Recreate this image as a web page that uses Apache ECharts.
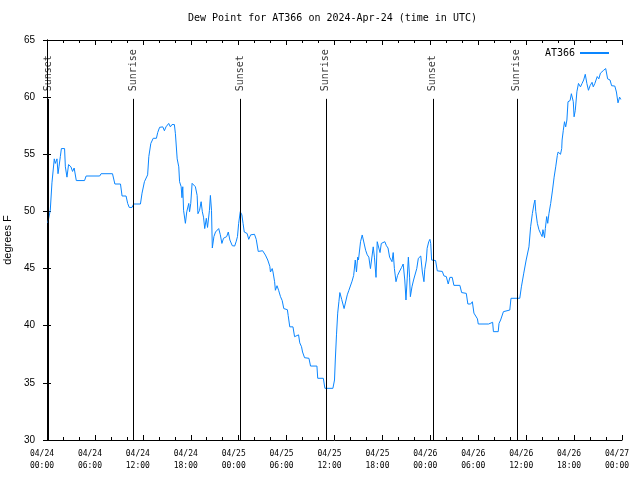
<!DOCTYPE html>
<html>
<head>
<meta charset="utf-8">
<script src="https://cdn.jsdelivr.net/npm/echarts@6/dist/echarts.min.js"></script>
<style>html,body{margin:0;padding:0;background:#fff}#c{width:640px;height:480px}</style>
</head>
<body>
<div id="c"></div>
<script>
// hours since 2024-04-24 00:00 UTC
var hours = [0.1,0.2,0.41,0.62,0.91,1.04,1.25,1.38,1.5,1.67,1.8,2.2,2.3,2.5,2.7,3.0,3.2,3.4,3.67,4.7,4.9,6.6,6.77,8.2,8.5,9.2,9.4,9.9,10.1,10.3,10.65,10.85,11.7,11.9,12.2,12.45,12.6,12.75,13.0,13.3,13.7,13.86,14.1,14.5,14.7,14.9,15.24,15.45,15.65,15.95,16.08,16.3,16.5,16.6,16.8,16.9,17.0,17.1,17.33,17.5,17.75,17.85,18.0,18.17,18.58,18.8,18.9,19.1,19.3,19.45,19.6,19.75,19.95,20.1,20.34,20.46,20.6,20.7,20.9,21.1,21.3,21.5,21.7,21.9,22.1,22.5,22.7,22.9,23.2,23.5,23.7,23.85,24.0,24.2,24.4,24.55,24.7,24.85,25.06,25.26,25.5,25.98,26.2,26.45,26.7,27.0,27.35,27.64,27.9,27.98,28.2,28.3,28.5,28.6,28.8,29.0,29.24,29.45,29.65,29.85,30.1,30.2,30.4,30.6,30.8,31.0,31.2,31.5,31.65,31.87,32.0,32.25,32.8,33.0,33.8,33.9,34.6,34.8,35.8,36.0,36.1,36.25,36.4,36.55,36.67,36.9,37.2,37.4,37.6,37.8,38.0,38.2,38.4,38.6,38.75,38.9,39.0,39.26,39.47,39.7,39.9,40.1,40.3,40.5,40.7,40.85,41.0,41.2,41.35,41.55,41.7,41.86,42.05,42.3,42.5,42.7,42.9,43.1,43.2,43.35,43.5,43.7,43.9,44.1,44.4,44.6,44.75,44.8,44.95,45.1,45.25,45.4,45.5,45.7,45.9,46.1,46.3,46.5,46.8,47.0,47.2,47.3,47.5,47.6,47.8,47.95,48.05,48.16,48.3,48.66,48.87,49.5,49.7,50.0,50.24,50.45,50.74,50.95,51.7,51.92,52.5,52.7,53.05,53.26,53.46,53.67,53.9,54.0,55.3,55.55,55.8,55.9,56.5,56.6,56.8,57.15,57.3,57.95,58.1,59.2,59.4,59.7,60.0,60.35,60.56,60.78,60.98,61.1,61.2,61.4,61.6,61.8,62.0,62.1,62.3,62.4,62.57,62.7,62.85,63.07,63.3,63.5,63.7,63.9,64.0,64.3,64.45,64.5,64.65,64.8,64.95,65.1,65.24,65.5,65.66,65.8,65.9,66.0,66.15,66.35,66.55,66.8,67.0,67.2,67.4,67.6,67.8,68.0,68.25,68.4,68.6,68.9,69.1,69.3,69.5,69.7,69.96,70.2,70.5,70.7,71.1,71.3,71.5,71.7,71.85];
var dewF = [49.0,48.9,50.1,52.5,54.6,54.2,54.6,53.3,53.9,54.8,55.5,55.5,53.9,53.0,54.1,53.9,53.5,53.8,52.7,52.7,53.1,53.1,53.3,53.3,52.4,52.4,51.35,51.35,50.7,50.35,50.35,50.65,50.65,51.6,52.6,52.6,53.2,54.8,55.95,56.4,56.4,56.9,57.36,57.4,57.06,57.4,57.7,57.4,57.6,57.6,56.8,54.6,53.9,52.6,52.16,51.2,52.16,50.1,48.96,49.97,50.7,49.97,50.7,52.46,52.16,51.4,49.8,50.1,50.85,49.97,49.5,48.5,49.4,48.6,50.1,51.4,50.1,46.8,47.8,48.2,48.1,48.5,47.96,47.2,47.65,47.8,48.2,47.5,47.0,46.97,47.4,47.8,48.96,49.97,49.7,48.96,48.2,48.2,48.07,47.56,47.95,48.0,47.56,46.5,46.66,46.56,46.18,45.75,45.2,44.7,45.0,44.7,43.85,43.1,43.5,43.1,42.54,42.2,41.5,41.35,41.4,40.9,39.9,39.76,39.9,39.04,39.2,39.2,38.5,38.16,37.7,37.2,37.15,36.47,36.47,35.4,35.4,34.52,34.52,35.25,37.0,39.2,41.1,42.1,42.9,42.3,41.5,41.6,42.7,43.1,43.27,43.9,44.4,45.75,44.7,46.0,45.75,47.35,47.94,47.94,46.6,46.2,46.0,45.0,45.1,46.9,46.0,44.23,47.35,46.8,46.4,47.2,47.35,47.35,47.0,46.8,46.0,46.0,45.6,46.4,45.0,43.85,44.4,44.7,45.1,45.4,45.3,44.0,42.25,44.1,46.0,44.25,42.54,43.4,44.0,44.1,45.0,45.9,46.1,44.7,43.85,44.9,45.75,46.77,47.35,47.56,47.2,45.75,45.7,45.7,44.8,44.75,44.36,44.3,43.65,44.23,44.23,43.53,43.53,42.9,42.83,41.9,41.9,42.1,41.1,40.97,40.6,40.15,40.15,40.3,40.3,39.48,39.48,40.2,40.5,41.23,41.35,41.37,42.4,42.4,43.4,44.6,45.75,46.9,48.66,49.83,50.65,51.0,50.0,48.96,48.4,48.08,47.8,48.4,47.7,48.5,49.55,48.96,49.8,50.7,51.87,53.0,53.9,54.9,55.2,55.0,55.5,56.25,57.1,57.85,57.4,58.0,59.6,59.7,60.3,60.45,59.6,58.28,58.85,60.47,61.2,60.9,61.2,61.5,62.0,61.2,60.6,61.0,61.3,60.9,61.2,61.8,61.6,62.1,62.2,62.35,62.5,61.6,61.5,61.0,60.97,60.45,59.5,60.0,59.8];
var sunHours = [0.2, 10.85, 24.26, 34.91, 48.32, 58.85];
var sunLabels = ['Sunset', 'Sunrise', 'Sunset', 'Sunrise', 'Sunset', 'Sunrise'];
var yTicks = [30, 35, 40, 45, 50, 55, 60, 65];
var baseTime = Date.UTC(2024, 3, 24, 0, 0);

function pad(n) { return (n < 10 ? '0' : '') + n; }
function fmtHour(h) {
  var d = new Date(baseTime + h * 3600000);
  return pad(d.getUTCMonth() + 1) + '/' + pad(d.getUTCDate()) + '\n' + pad(d.getUTCHours()) + ':' + pad(d.getUTCMinutes());
}

var mono = 'DejaVu Sans Mono';
var sans = 'Liberation Sans';
var lineData = hours.map(function (h, i) { return [h, dewF[i]]; });
var sunData = sunHours.map(function (h, i) { return [h, 59.85, sunLabels[i]]; });

var chart = echarts.init(document.getElementById('c'), null, { renderer: 'canvas' });
var axisLineStyle = { show: true, lineStyle: { color: '#000', width: 1 } };
var xCommon = {
  type: 'value', min: 0, max: 72, interval: 6,
  axisLine: axisLineStyle,
  axisTick: { show: true, inside: true, length: 5, lineStyle: { color: '#000' } },
  minorTick: { show: true, splitNumber: 3, length: 3, lineStyle: { color: '#000' } },
  splitLine: { show: false }, minorSplitLine: { show: false }
};
var yCommon = {
  type: 'value', min: yTicks[0], max: yTicks[yTicks.length - 1], interval: 5,
  axisLine: axisLineStyle,
  axisTick: { show: true, inside: true, length: 4, lineStyle: { color: '#000' } },
  splitLine: { show: false }
};

chart.setOption({
  animation: false,
  backgroundColor: '#fff',
  title: {
    text: 'Dew Point for AT366 on 2024-Apr-24 (time in UTC)',
    left: 183, top: 8,
    textStyle: { fontFamily: mono, fontSize: 10, fontWeight: 'normal', color: '#000' }
  },
  legend: {
    data: ['AT366'], right: 26, top: 43, align: 'right',
    icon: 'rect', itemWidth: 29, itemHeight: 2, itemGap: 5,
    textStyle: { fontFamily: mono, fontSize: 10, color: '#000' },
    selectedMode: false
  },
  grid: { left: 47, right: 18, top: 40, bottom: 40, containLabel: false, outerBoundsMode: 'none' },
  xAxis: [
    Object.assign({}, xCommon, {
      position: 'bottom',
      axisLabel: {
        show: true, margin: 8, fontFamily: mono, fontSize: 8, lineHeight: 12, color: '#000',
        padding: [0, 10, 0, 0],
        formatter: function (v) { return fmtHour(v); }
      }
    }),
    Object.assign({}, xCommon, { position: 'top', axisLabel: { show: false } })
  ],
  yAxis: [
    Object.assign({}, yCommon, {
      position: 'left',
      name: 'degrees F', nameLocation: 'middle', nameGap: 29, nameRotate: 90,
      nameTextStyle: { fontFamily: sans, fontSize: 11, color: '#000' },
      axisLabel: { show: true, margin: 12, fontFamily: sans, fontSize: 10, color: '#000' }
    }),
    Object.assign({}, yCommon, { position: 'right', axisLabel: { show: false } })
  ],
  series: [
    {
      name: 'AT366', type: 'line', data: lineData,
      showSymbol: false, symbol: 'none', silent: true,
      lineStyle: { color: '#0a86ff', width: 1 },
      itemStyle: { color: '#0a86ff' },
      z: 3
    },
    {
      name: 'sun', type: 'scatter', data: sunData, silent: true,
      symbolSize: 1, itemStyle: { color: 'rgba(0,0,0,0)' },
      label: {
        show: true, position: [0, -7], rotate: 90, align: 'left', verticalAlign: 'middle',
        fontFamily: mono, fontSize: 10, color: '#000',
        formatter: function (p) { return p.data[2]; }
      },
      markLine: {
        silent: true, symbol: ['none', 'none'], animation: false,
        label: { show: false },
        lineStyle: { color: '#000', width: 1, type: 'solid' },
        emphasis: { disabled: true },
        data: sunHours.map(function (h) { return [{ coord: [h, 59.85] }, { coord: [h, 30] }]; })
      },
      z: 2
    }
  ]
});
</script>
</body>
</html>
